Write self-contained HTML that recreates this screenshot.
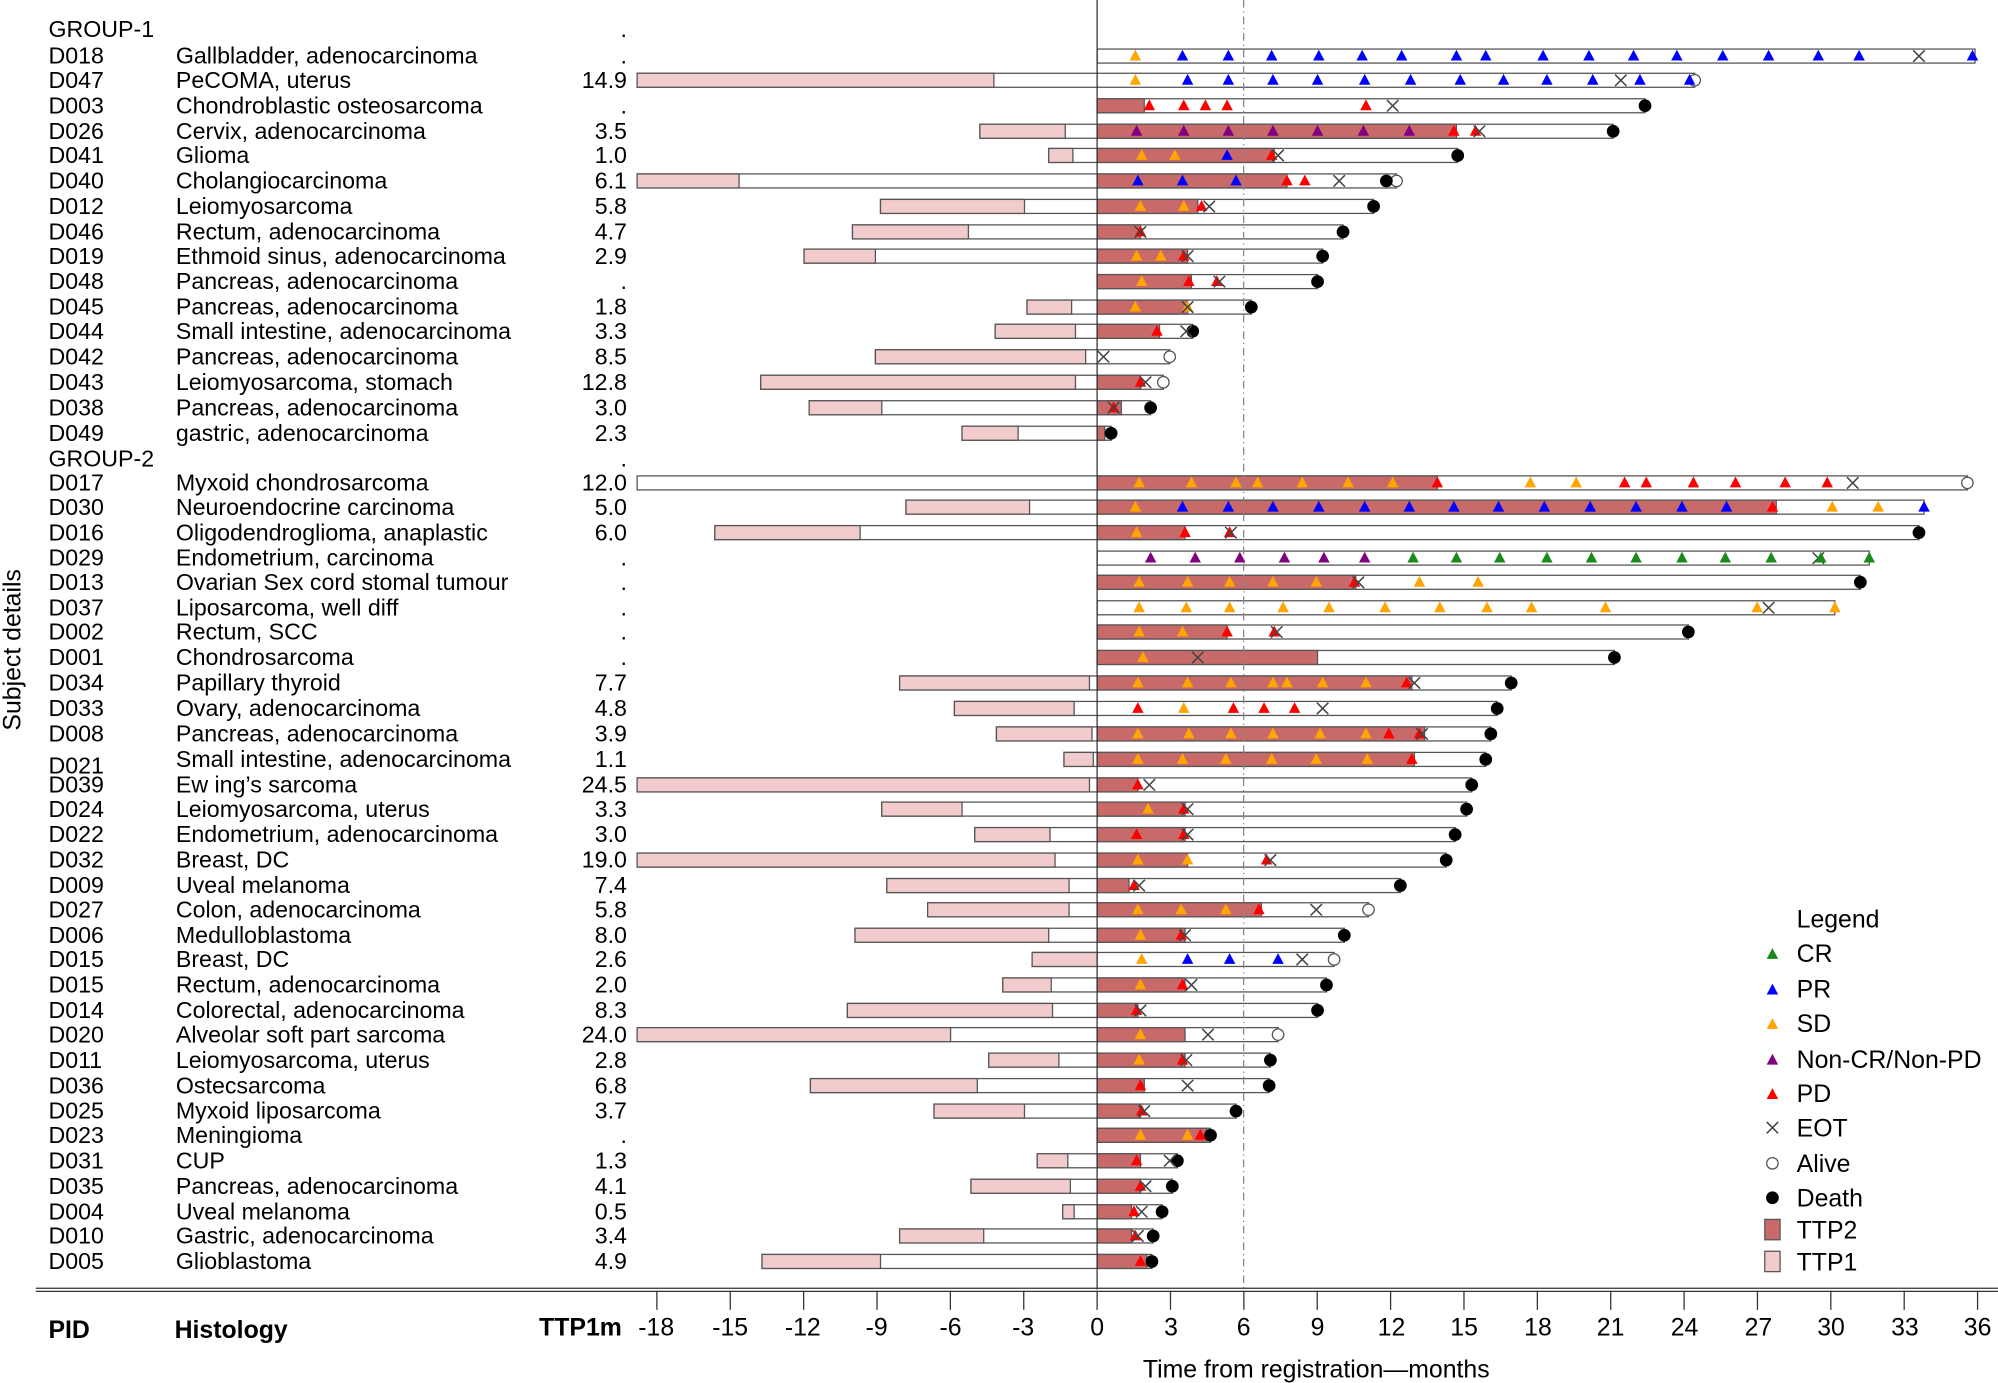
<!DOCTYPE html>
<html><head><meta charset="utf-8"><style>
html,body{margin:0;padding:0;background:#fff}
svg{display:block}
text{font-family:"Liberation Sans",sans-serif;fill:#000}
.r{font-size:18.2px}
.b{font-size:19.5px}
</style></head><body>
<svg id="s" width="1998" height="1383" viewBox="0 0 1568 1085.4" xmlns="http://www.w3.org/2000/svg">
<g id="bars"></g>
<line x1="861" y1="0" x2="861" y2="1012" stroke="#333" stroke-width="1"/>
<line x1="976" y1="0" x2="976" y2="1012" stroke="#888" stroke-width="1" stroke-dasharray="6,3,1,3"/>
<line x1="28" y1="1011" x2="1568" y2="1011" stroke="#333" stroke-width="1"/>
<line x1="28" y1="1013.5" x2="1568" y2="1013.5" stroke="#333" stroke-width="1"/>
<g id="ticks" stroke="#333" stroke-width="1"></g>
<g class="r">
<text x="38" y="29">GROUP-1</text><text x="487" y="29">.</text>
<text x="38" y="50">D018</text><text x="138" y="50">Gallbladder, adenocarcinoma</text><text x="492" y="50" text-anchor="end">.</text>
<text x="38" y="69">D047</text><text x="138" y="69">PeCOMA, uterus</text><text x="492" y="69" text-anchor="end">14.9</text>
<text x="38" y="89">D003</text><text x="138" y="89">Chondroblastic osteosarcoma</text><text x="492" y="89" text-anchor="end">.</text>
<text x="38" y="109">D026</text><text x="138" y="109">Cervix, adenocarcinoma</text><text x="492" y="109" text-anchor="end">3.5</text>
<text x="38" y="128">D041</text><text x="138" y="128">Glioma</text><text x="492" y="128" text-anchor="end">1.0</text>
<text x="38" y="148">D040</text><text x="138" y="148">Cholangiocarcinoma</text><text x="492" y="148" text-anchor="end">6.1</text>
<text x="38" y="168">D012</text><text x="138" y="168">Leiomyosarcoma</text><text x="492" y="168" text-anchor="end">5.8</text>
<text x="38" y="188">D046</text><text x="138" y="188">Rectum, adenocarcinoma</text><text x="492" y="188" text-anchor="end">4.7</text>
<text x="38" y="207">D019</text><text x="138" y="207">Ethmoid sinus, adenocarcinoma</text><text x="492" y="207" text-anchor="end">2.9</text>
<text x="38" y="227">D048</text><text x="138" y="227">Pancreas, adenocarcinoma</text><text x="492" y="227" text-anchor="end">.</text>
<text x="38" y="247">D045</text><text x="138" y="247">Pancreas, adenocarcinoma</text><text x="492" y="247" text-anchor="end">1.8</text>
<text x="38" y="266">D044</text><text x="138" y="266">Small intestine, adenocarcinoma</text><text x="492" y="266" text-anchor="end">3.3</text>
<text x="38" y="286">D042</text><text x="138" y="286">Pancreas, adenocarcinoma</text><text x="492" y="286" text-anchor="end">8.5</text>
<text x="38" y="306">D043</text><text x="138" y="306">Leiomyosarcoma, stomach</text><text x="492" y="306" text-anchor="end">12.8</text>
<text x="38" y="326">D038</text><text x="138" y="326">Pancreas, adenocarcinoma</text><text x="492" y="326" text-anchor="end">3.0</text>
<text x="38" y="346">D049</text><text x="138" y="346">gastric, adenocarcinoma</text><text x="492" y="346" text-anchor="end">2.3</text>
<text x="38" y="366">GROUP-2</text><text x="487" y="366">.</text>
<text x="38" y="385">D017</text><text x="138" y="385">Myxoid chondrosarcoma</text><text x="492" y="385" text-anchor="end">12.0</text>
<text x="38" y="404">D030</text><text x="138" y="404">Neuroendocrine carcinoma</text><text x="492" y="404" text-anchor="end">5.0</text>
<text x="38" y="424">D016</text><text x="138" y="424">Oligodendroglioma, anaplastic</text><text x="492" y="424" text-anchor="end">6.0</text>
<text x="38" y="444">D029</text><text x="138" y="444">Endometrium, carcinoma</text><text x="492" y="444" text-anchor="end">.</text>
<text x="38" y="463">D013</text><text x="138" y="463">Ovarian Sex cord stomal tumour</text><text x="492" y="463" text-anchor="end">.</text>
<text x="38" y="483">D037</text><text x="138" y="483">Liposarcoma, well diff</text><text x="492" y="483" text-anchor="end">.</text>
<text x="38" y="502">D002</text><text x="138" y="502">Rectum, SCC</text><text x="492" y="502" text-anchor="end">.</text>
<text x="38" y="522">D001</text><text x="138" y="522">Chondrosarcoma</text><text x="492" y="522" text-anchor="end">.</text>
<text x="38" y="542">D034</text><text x="138" y="542">Papillary thyroid</text><text x="492" y="542" text-anchor="end">7.7</text>
<text x="38" y="562">D033</text><text x="138" y="562">Ovary, adenocarcinoma</text><text x="492" y="562" text-anchor="end">4.8</text>
<text x="38" y="582">D008</text><text x="138" y="582">Pancreas, adenocarcinoma</text><text x="492" y="582" text-anchor="end">3.9</text>
<text x="38" y="607">D021</text><text x="138" y="602">Small intestine, adenocarcinoma</text><text x="492" y="602" text-anchor="end">1.1</text>
<text x="38" y="622">D039</text><text x="138" y="622">Ew ing’s sarcoma</text><text x="492" y="622" text-anchor="end">24.5</text>
<text x="38" y="641">D024</text><text x="138" y="641">Leiomyosarcoma, uterus</text><text x="492" y="641" text-anchor="end">3.3</text>
<text x="38" y="661">D022</text><text x="138" y="661">Endometrium, adenocarcinoma</text><text x="492" y="661" text-anchor="end">3.0</text>
<text x="38" y="681">D032</text><text x="138" y="681">Breast, DC</text><text x="492" y="681" text-anchor="end">19.0</text>
<text x="38" y="701">D009</text><text x="138" y="701">Uveal melanoma</text><text x="492" y="701" text-anchor="end">7.4</text>
<text x="38" y="720">D027</text><text x="138" y="720">Colon, adenocarcinoma</text><text x="492" y="720" text-anchor="end">5.8</text>
<text x="38" y="740">D006</text><text x="138" y="740">Medulloblastoma</text><text x="492" y="740" text-anchor="end">8.0</text>
<text x="38" y="759">D015</text><text x="138" y="759">Breast, DC</text><text x="492" y="759" text-anchor="end">2.6</text>
<text x="38" y="779">D015</text><text x="138" y="779">Rectum, adenocarcinoma</text><text x="492" y="779" text-anchor="end">2.0</text>
<text x="38" y="799">D014</text><text x="138" y="799">Colorectal, adenocarcinoma</text><text x="492" y="799" text-anchor="end">8.3</text>
<text x="38" y="818">D020</text><text x="138" y="818">Alveolar soft part sarcoma</text><text x="492" y="818" text-anchor="end">24.0</text>
<text x="38" y="838">D011</text><text x="138" y="838">Leiomyosarcoma, uterus</text><text x="492" y="838" text-anchor="end">2.8</text>
<text x="38" y="858">D036</text><text x="138" y="858">Ostecsarcoma</text><text x="492" y="858" text-anchor="end">6.8</text>
<text x="38" y="878">D025</text><text x="138" y="878">Myxoid liposarcoma</text><text x="492" y="878" text-anchor="end">3.7</text>
<text x="38" y="897">D023</text><text x="138" y="897">Meningioma</text><text x="492" y="897" text-anchor="end">.</text>
<text x="38" y="917">D031</text><text x="138" y="917">CUP</text><text x="492" y="917" text-anchor="end">1.3</text>
<text x="38" y="937">D035</text><text x="138" y="937">Pancreas, adenocarcinoma</text><text x="492" y="937" text-anchor="end">4.1</text>
<text x="38" y="957">D004</text><text x="138" y="957">Uveal melanoma</text><text x="492" y="957" text-anchor="end">0.5</text>
<text x="38" y="976">D010</text><text x="138" y="976">Gastric, adenocarcinoma</text><text x="492" y="976" text-anchor="end">3.4</text>
<text x="38" y="996">D005</text><text x="138" y="996">Glioblastoma</text><text x="492" y="996" text-anchor="end">4.9</text>
</g>
<g class="b">
<text x="38" y="1050" font-weight="bold">PID</text>
<text x="137" y="1050" font-weight="bold">Histology</text>
<text x="488" y="1048" font-weight="bold" text-anchor="end">TTP1m</text>
<text x="515" y="1048" text-anchor="middle">-18</text><text x="573" y="1048" text-anchor="middle">-15</text><text x="630" y="1048" text-anchor="middle">-12</text><text x="688" y="1048" text-anchor="middle">-9</text><text x="746" y="1048" text-anchor="middle">-6</text><text x="803" y="1048" text-anchor="middle">-3</text><text x="861" y="1048" text-anchor="middle">0</text><text x="919" y="1048" text-anchor="middle">3</text><text x="976" y="1048" text-anchor="middle">6</text><text x="1034" y="1048" text-anchor="middle">9</text><text x="1092" y="1048" text-anchor="middle">12</text><text x="1149" y="1048" text-anchor="middle">15</text><text x="1207" y="1048" text-anchor="middle">18</text><text x="1264" y="1048" text-anchor="middle">21</text><text x="1322" y="1048" text-anchor="middle">24</text><text x="1380" y="1048" text-anchor="middle">27</text><text x="1437" y="1048" text-anchor="middle">30</text><text x="1495" y="1048" text-anchor="middle">33</text><text x="1552" y="1048" text-anchor="middle">36</text>
<text x="1033" y="1081" text-anchor="middle">Time from registration—months</text>
<text transform="translate(16,510) rotate(-90)" text-anchor="middle">Subject details</text>
<text x="1410" y="728">Legend</text>
<text x="1410" y="755">CR</text><text x="1410" y="783">PR</text><text x="1410" y="810">SD</text><text x="1410" y="838">Non-CR/Non-PD</text><text x="1410" y="865">PD</text><text x="1410" y="892">EOT</text><text x="1410" y="920">Alive</text><text x="1410" y="947">Death</text><text x="1410" y="972">TTP2</text><text x="1410" y="997">TTP1</text>
</g>
<g id="leg"></g>
</svg>
<script>
var NS="http://www.w3.org/2000/svg";
function el(p,t,a){var e=document.createElementNS(NS,t);for(var k in a)e.setAttribute(k,a[k]);p.appendChild(e);return e;}
var C={C:"#1a8a1a",P:"#0000ff",S:"#ffa500",N:"#800080",D:"#ff0000"};
var B=document.getElementById("bars");
function tri(g,x,y,c){el(g,"polygon",{points:(x)+","+(y-5)+" "+(x-4.5)+","+(y+3.5)+" "+(x+4.5)+","+(y+3.5),fill:c});}
function eot(g,x,y){el(g,"path",{d:"M"+(x-4.5)+","+(y-4.5)+"L"+(x+4.5)+","+(y+4.5)+"M"+(x-4.5)+","+(y+4.5)+"L"+(x+4.5)+","+(y-4.5),stroke:"#444","stroke-width":1.2,fill:"none"});}
function dot(g,x,y,alive){el(g,"circle",{cx:x,cy:y,r:4.5,fill:alive?"#fff":"#000",stroke:alive?"#555":"#000","stroke-width":1});}
var R=[
[44,0,0,0,1550,"-","S891 P928 P964 P998 P1035 P1069 P1100 P1143 P1166 P1211 P1247 P1282 P1316 P1352 P1388 P1427 P1459 E1506 P1548"],
[63,500,780,0,1330,"A","S891 P932 P964 P999 P1034 P1071 P1107 P1146 P1180 P1214 P1250 E1272 P1287 P1326"],
[83,0,0,898,1291,"D","D902 D929 D946 D963 D1072 E1093"],
[103,769,836,1143,1266,"D","N892 N929 N964 N999 N1034 N1070 N1106 D1141 D1158 E1161"],
[122,823,842,1000,1144,"D","S896 S922 P963 D998 E1003"],
[142,500,580,1010,1096,"A","P893 P928 P970 D1010 D1024 E1051 O1088"],
[162,691,804,940,1078,"D","S895 S929 D943 E949"],
[182,669,760,895,1054,"D","D895 E895"],
[201,631,687,932,1038,"D","S892 S911 D929 E932"],
[221,0,0,935,1034,"D","S896 D933 D955 E957"],
[241,806,841,932,982,"D","S891 S932 E932"],
[260,781,844,910,936,"D","D908 E931"],
[280,687,852,0,918,"A","E866"],
[300,597,844,895,913,"A","D895 E899"],
[320,635,692,880,903,"D","D874 E874"],
[340,755,799,867,872,"D",""],
[379,500,0,1128,1544,"A","S894 S935 S970 S987 S1022 S1058 S1093 D1128 S1201 S1237 D1275 D1292 D1329 D1362 D1401 D1434 E1454"],
[398,711,808,1394,1510,"-","S891 P928 P964 P999 P1035 P1071 P1106 P1141 P1176 P1212 P1248 P1284 P1320 P1355 D1391 S1438 S1474 P1510"],
[418,561,675,930,1506,"D","S892 D930 D965 E966"],
[438,0,0,0,1467,"-","N903 N938 N973 N1008 N1039 N1071 C1109 C1143 C1177 C1214 C1249 C1284 C1320 C1354 C1390 E1427 C1429 C1467"],
[457,0,0,1064,1460,"D","S894 S932 S965 S999 S1033 D1063 E1066 S1114 S1160"],
[477,0,0,0,1440,"-","S894 S931 S965 S1007 S1043 S1087 S1130 S1167 S1202 S1260 S1379 E1388 S1440"],
[496,0,0,963,1325,"D","S894 S928 D963 D1000 E1002"],
[516,0,0,1034,1267,"D","S897 E940"],
[536,706,855,1108,1186,"D","S893 S932 S966 S999 S1010 S1038 S1072 D1104 E1110"],
[556,749,843,0,1175,"D","D893 S929 D968 D992 D1016 E1038"],
[576,782,857,1118,1170,"D","S893 S933 S966 S999 S1036 S1072 D1090 D1114 E1116"],
[596,835,858,1110,1166,"D","S893 S928 S962 S998 S1033 S1073 D1108"],
[616,500,855,893,1155,"D","D893 E902"],
[635,692,755,930,1151,"D","S901 D929 E932"],
[655,765,824,930,1142,"D","D892 D929 E932"],
[675,500,828,932,1135,"D","S893 S932 D994 E997"],
[695,696,839,886,1099,"D","D890 E894"],
[714,728,839,990,1074,"A","S893 S927 S962 D988 E1033"],
[734,671,823,930,1055,"D","S895 D927 E930"],
[753,810,861,0,1047,"A","S896 P932 P965 P1003 E1022"],
[773,787,825,930,1041,"D","S895 D928 E935"],
[793,665,826,893,1034,"D","D892 E895"],
[812,500,746,930,1003,"A","S895 E948"],
[832,776,831,930,997,"D","S894 D928 E931"],
[852,636,767,898,996,"D","D895 E932"],
[872,733,804,895,970,"D","D896 E898"],
[891,0,0,947,950,"D","S895 S932 D942"],
[911,814,838,895,924,"D","D892 E918"],
[931,762,840,895,920,"D","D895 E899"],
[951,834,843,888,912,"D","D890 E896"],
[970,706,772,888,905,"D","D891 E893"],
[990,598,691,900,904,"D","D895"]
];
R.forEach(function(r){
 var y=r[0],l=r[1]||861,p=r[2],t=r[3],e=r[4],h=5.5;
 el(B,"rect",{x:l,y:y-h,width:e-l,height:2*h,fill:"#fff",stroke:"#555","stroke-width":1});
 if(p&&r[1]) el(B,"rect",{x:l,y:y-h,width:p-l,height:2*h,fill:"#f2cccc",stroke:"#555","stroke-width":1});
 if(t) el(B,"rect",{x:861,y:y-h,width:t-861,height:2*h,fill:"#c96a6a",stroke:"#555","stroke-width":1});
 if(r[5]=="D") dot(B,e,y,false);
 if(r[5]=="A") dot(B,e,y,true);
 r[6].split(" ").forEach(function(m){ if(!m)return; var c=m[0],x=+m.slice(1);
  if(c=="E") eot(B,x,y); else if(c=="O") dot(B,x,y,false); else tri(B,x,y,C[c]); });
});
var T=document.getElementById("ticks");
for(var i=-18;i<=36;i+=3){var x=861+i*691/36;el(T,"line",{x1:x,y1:1013,x2:x,y2:1028});}
var L=document.getElementById("leg");
tri(L,1391,749,C.C);tri(L,1391,777,C.P);tri(L,1391,804,C.S);tri(L,1391,832,C.N);tri(L,1391,859,C.D);
eot(L,1391,885);dot(L,1391,913,true);dot(L,1391,940,false);
el(L,"rect",{x:1385,y:957,width:12,height:16,fill:"#c96a6a",stroke:"#555"});
el(L,"rect",{x:1385,y:982,width:12,height:16,fill:"#f2cccc",stroke:"#555"});
</script>
</body></html>
